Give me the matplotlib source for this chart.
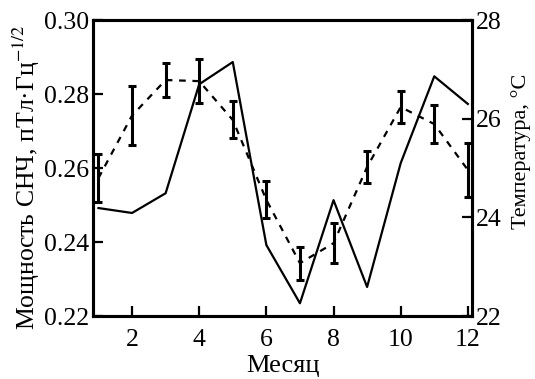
import matplotlib
matplotlib.use('Agg')
import matplotlib.pyplot as plt
import numpy as np

months = [1, 2, 3, 4, 5, 6, 7, 8, 9, 10, 11, 12]
power = [0.2573, 0.2742, 0.2838, 0.2835, 0.2730, 0.2514, 0.2343, 0.2397, 0.2603, 0.2765, 0.2719, 0.2595]
power_err = [0.0065, 0.0080, 0.0046, 0.0059, 0.0050, 0.0050, 0.0045, 0.0054, 0.0042, 0.0042, 0.0051, 0.0072]
temperature = [24.19, 24.09, 24.49, 26.70, 27.15, 23.44, 22.26, 24.35, 22.59, 25.10, 26.86, 26.30]

plt.rcParams['font.family'] = ['Liberation Serif', 'DejaVu Serif']
plt.rcParams['mathtext.fontset'] = 'stix'

fig = plt.figure(figsize=(5.35, 3.79), dpi=100)
ax1 = fig.add_axes([0.174, 0.166, 0.708, 0.781])
ax2 = ax1.twinx()

ax1.errorbar(months, power, yerr=power_err, color='black', lw=1.6, dashes=(3, 3),
             elinewidth=2.2, capsize=3, capthick=2.2)
ax2.plot(months, temperature, color='black', lw=1.6)

ax1.set_xlim(0.84, 12.12)
ax1.set_ylim(0.22, 0.30)
ax2.set_ylim(22, 28)
ax1.set_xticks([2, 4, 6, 8, 10, 12])
ax1.set_yticks(np.arange(0.22, 0.301, 0.02))
ax1.set_yticklabels(['0.22', '0.24', '0.26', '0.28', '0.30'])
ax2.set_yticks([22, 24, 26, 28])

for a in (ax1, ax2):
    a.tick_params(direction='in', length=7, width=1.6, labelsize=18.5, pad=3)
    for s in a.spines.values():
        s.set_linewidth(2.2)
ax1.tick_params(axis='x', pad=9)

ax1.set_xlabel('Месяц', fontsize=19, labelpad=3)
ax1.set_ylabel('Мощность СНЧ, пТл·Гц$^{-1/2}$', fontsize=18.5)
ax2.set_ylabel('Температура, °C', fontsize=16)
ax1.yaxis.set_label_coords(-0.135, 0.47)
ax2.yaxis.set_label_coords(1.103, 0.555)

fig.savefig('out.png', dpi=100)
